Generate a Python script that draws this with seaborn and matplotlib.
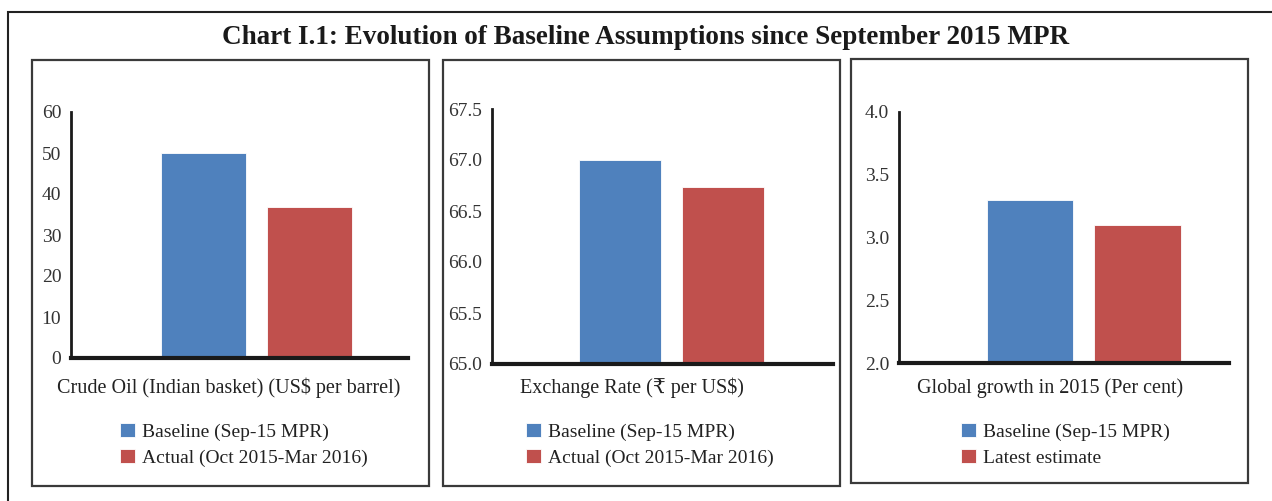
import pandas as pd
import seaborn as sns
import matplotlib.pyplot as plt
from matplotlib.patches import Rectangle

# ---- data ----
panel_labels = ["Crude Oil (Indian basket) (US$ per barrel)",
                "Exchange Rate (\u20b9 per US$)",
                "Global growth in 2015 (Per cent)"]
series_oil = ["Baseline (Sep-15 MPR)", "Actual (Oct 2015-Mar 2016)"]
series_fx = ["Baseline (Sep-15 MPR)", "Actual (Oct 2015-Mar 2016)"]
series_gdp = ["Baseline (Sep-15 MPR)", "Latest estimate"]
oil_values = [50.0, 36.8]
fx_values = [67.0, 66.74]
gdp_values = [3.3, 3.1]
oil_ticks = [0, 10, 20, 30, 40, 50, 60]
fx_ticks = [65.0, 65.5, 66.0, 66.5, 67.0, 67.5]
gdp_ticks = [2.0, 2.5, 3.0, 3.5, 4.0]

title = "Chart I.1: Evolution of Baseline Assumptions since September 2015 MPR"
colors = ["#4F81BD", "#C0504D"]

sns.set_style("white")
plt.rcParams['font.family'] = ['Liberation Serif', 'DejaVu Serif', 'DejaVu Sans']
plt.rcParams['text.color'] = '#222222'

W, H = 1272, 501
fig = plt.figure(figsize=(W / 100, H / 100), dpi=100)


def px_box(x0, y0, x1, y1):
    # pixel box (top-left origin) -> figure fraction [left, bottom, width, height]
    return [x0 / W, 1 - y1 / H, (x1 - x0) / W, (y1 - y0) / H]


# outer frame and panel frames
fig.add_artist(Rectangle((8 / W, -0.1), 1.2, 1 - 12 / H + 0.1, transform=fig.transFigure,
                         fill=False, edgecolor='#222222', lw=1.5))
for (x0, y0, x1, y1) in [(32, 60, 429, 486), (443, 60, 840, 486), (851, 59, 1248, 483)]:
    b = px_box(x0, y0, x1, y1)
    fig.add_artist(Rectangle((b[0], b[1]), b[2], b[3], transform=fig.transFigure,
                             fill=False, edgecolor='#3a3a3a', lw=1.6))

fig.text(646 / W, 1 - 37 / H, title, ha='center', va='center',
         fontsize=19.5, fontweight='bold', color='#1a1a1a')

panels = [
    (series_oil, oil_values, oil_ticks, "%d", (71, 112, 408, 358), (-0.70, 0.57), 229, (120, 423)),
    (series_fx, fx_values, fx_ticks, "%.1f", (492, 109, 833, 364), (-0.70, 0.63), 632, (526, 423)),
    (series_gdp, gdp_values, gdp_ticks, "%.1f", (899, 112, 1229, 363), (-0.685, 0.54), 1050, (961, 423)),
]

for i, (series, vals, ticks, fmt, box, xl, label_x, leg_xy) in enumerate(panels):
    ax = fig.add_axes(px_box(*box))
    df = pd.DataFrame({"cat": [panel_labels[i]] * 2, "series": series, "value": vals})
    sns.barplot(data=df, x="cat", y="value", hue="series", palette=colors,
                width=0.8, gap=0.2, saturation=1, edgecolor='white', linewidth=0.6, ax=ax)
    ax.set_ylim(ticks[0], ticks[-1])
    ax.set_xlim(*xl)
    ax.set_yticks(ticks)
    ax.set_yticklabels([fmt % t for t in ticks])
    ax.set_xticks([])
    ax.tick_params(axis='y', length=0, pad=7, labelsize=14, labelcolor='#333333')
    for s in ['top', 'right']:
        ax.spines[s].set_visible(False)
    ax.spines['left'].set_linewidth(2)
    ax.spines['left'].set_color('#1a1a1a')
    ax.spines['bottom'].set_linewidth(3)
    ax.spines['bottom'].set_color('#1a1a1a')
    ax.set_xlabel("")
    ax.set_ylabel("")
    fig.text(label_x / W, 1 - 388 / H, panel_labels[i], ha='center', va='center',
             fontsize=14.5, color='#222222')
    h, l = ax.get_legend_handles_labels()
    ax.legend(h, l, loc='upper left', bbox_to_anchor=(leg_xy[0] / W, 1 - leg_xy[1] / H),
              bbox_transform=fig.transFigure, frameon=False, fontsize=14,
              handlelength=0.75, handleheight=0.75, handletextpad=0.4,
              labelspacing=0.4, borderpad=0, borderaxespad=0)

fig.savefig("out.png", dpi=100, facecolor='white')
